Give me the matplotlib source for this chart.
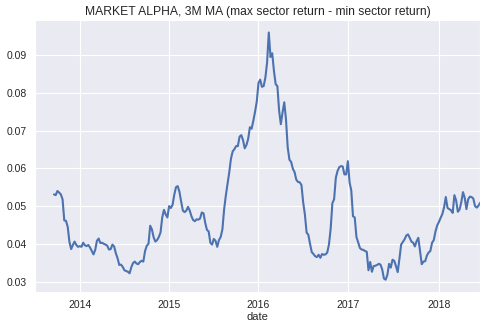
import numpy as np
import pandas as pd
import matplotlib
matplotlib.use("Agg")
import matplotlib.pyplot as plt
import seaborn as sns

sns.set_style("darkgrid")
plt.rcParams["font.family"] = ["Liberation Sans", "DejaVu Sans"]

# weekly dates, 3M rolling window leaves the first 11 weeks empty
start_date = "2013-07-07"
n_missing = 11

alpha_ma = [
    0.0531, 0.0529, 0.0540, 0.0536, 0.0531, 0.0518, 0.0462, 0.0461, 0.0445, 0.0405,
    0.0386, 0.0397, 0.0406, 0.0397, 0.0392, 0.0394, 0.0392, 0.0403, 0.0396, 0.0394,
    0.0397, 0.0390, 0.0381, 0.0372, 0.0384, 0.0408, 0.0414, 0.0402, 0.0403, 0.0400,
    0.0398, 0.0395, 0.0385, 0.0386, 0.0398, 0.0393, 0.0375, 0.0362, 0.0344, 0.0345,
    0.0339, 0.0330, 0.0328, 0.0326, 0.0322, 0.0338, 0.0349, 0.0353, 0.0348, 0.0346,
    0.0352, 0.0355, 0.0353, 0.0381, 0.0395, 0.0400, 0.0448, 0.0438, 0.0417, 0.0406,
    0.0410, 0.0418, 0.0430, 0.0470, 0.0490, 0.0478, 0.0470, 0.0500, 0.0495, 0.0503,
    0.0530, 0.0550, 0.0553, 0.0538, 0.0512, 0.0488, 0.0484, 0.0488, 0.0498, 0.0488,
    0.0473, 0.0463, 0.0460, 0.0465, 0.0464, 0.0467, 0.0483, 0.0481, 0.0456, 0.0437,
    0.0433, 0.0403, 0.0398, 0.0413, 0.0408, 0.0392, 0.0410, 0.0418, 0.0438, 0.0491,
    0.0528, 0.0559, 0.0590, 0.0626, 0.0645, 0.0651, 0.0659, 0.0659, 0.0684, 0.0688,
    0.0675, 0.0653, 0.0662, 0.0678, 0.0709, 0.0705, 0.0726, 0.0750, 0.0777, 0.0826,
    0.0835, 0.0816, 0.0818, 0.0840, 0.0880, 0.0960, 0.0895, 0.0905, 0.0858, 0.0823,
    0.0818, 0.0753, 0.0717, 0.0748, 0.0775, 0.0730, 0.0656, 0.0623, 0.0617, 0.0599,
    0.0590, 0.0570, 0.0564, 0.0563, 0.0556, 0.0510, 0.0478, 0.0430, 0.0424, 0.0400,
    0.0378, 0.0373, 0.0367, 0.0365, 0.0371, 0.0363, 0.0373, 0.0371, 0.0372, 0.0377,
    0.0398, 0.0440, 0.0508, 0.0518, 0.0575, 0.0593, 0.0603, 0.0606, 0.0605, 0.0584,
    0.0584, 0.0619, 0.0563, 0.0541, 0.0473, 0.0470, 0.0418, 0.0404, 0.0389, 0.0385,
    0.0384, 0.0381, 0.0379, 0.0330, 0.0352, 0.0326, 0.0341, 0.0342, 0.0344, 0.0347,
    0.0345, 0.0332, 0.0308, 0.0305, 0.0318, 0.0347, 0.0337, 0.0358, 0.0355, 0.0341,
    0.0325, 0.0360, 0.0398, 0.0405, 0.0412, 0.0422, 0.0425, 0.0416, 0.0406, 0.0403,
    0.0393, 0.0407, 0.0416, 0.0380, 0.0346, 0.0353, 0.0354, 0.0369, 0.0377, 0.0381,
    0.0403, 0.0410, 0.0433, 0.0449, 0.0458, 0.0469, 0.0479, 0.0497, 0.0524, 0.0495,
    0.0492, 0.0489, 0.0482, 0.0529, 0.0515, 0.0485, 0.0491, 0.0510, 0.0537, 0.0522,
    0.0492, 0.0518, 0.0525, 0.0524, 0.0520, 0.0500, 0.0496, 0.0501, 0.0509,
]

values = [np.nan] * n_missing + alpha_ma
dates = pd.date_range(start_date, periods=len(values), freq="W")
series = pd.Series(values, index=pd.Index(dates, name="date"))

fig = plt.figure(figsize=(4.87, 3.30), dpi=100)
ax = fig.add_axes([0.072, 0.115, 0.914, 0.824])
series.plot(ax=ax, color="#4c72b0", linewidth=1.5)

ax.set_title("MARKET ALPHA, 3M MA (max sector return - min sector return)",
             fontsize=8.7, color="#262626", pad=3.5)
ax.set_xlabel("date", fontsize=8, color="#262626", labelpad=1.5)
ax.tick_params(axis="both", labelsize=7.5, colors="#262626", pad=2.5)
ax.tick_params(axis="x", which="both", rotation=0)
for lbl in ax.get_xticklabels(which="both"):
    lbl.set_horizontalalignment("center")

fig.savefig("out.png", dpi=100)
